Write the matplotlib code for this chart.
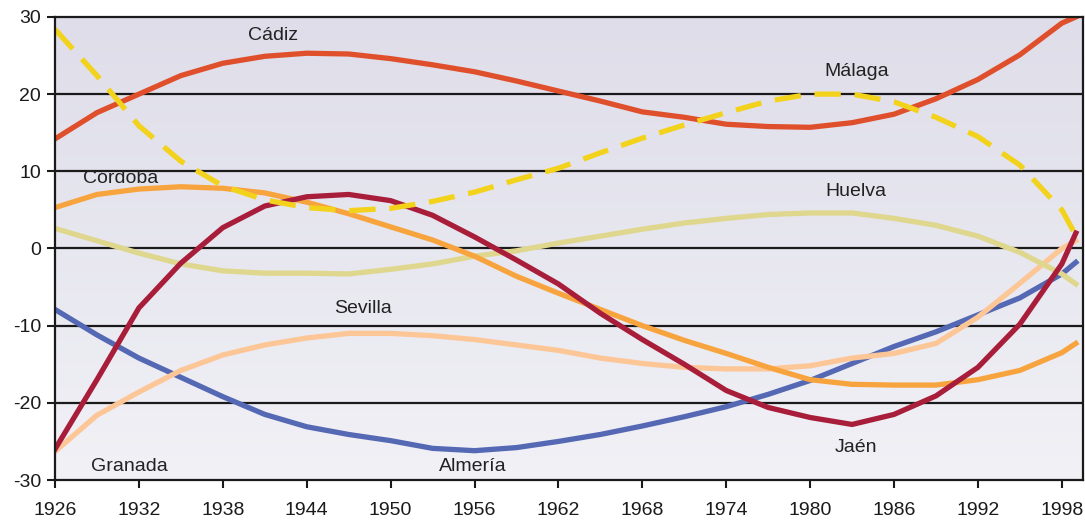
import numpy as np
import matplotlib
matplotlib.use("Agg")
import matplotlib.pyplot as plt
from matplotlib.ticker import MultipleLocator
from matplotlib.colors import LinearSegmentedColormap

plt.rcParams["font.family"] = ["Liberation Sans", "DejaVu Sans"]
plt.rcParams["axes.unicode_minus"] = False

# Years of the sampled points
years = [1926, 1929, 1932, 1935, 1938, 1941, 1944, 1947, 1950, 1953, 1956, 1959, 1962,
         1965, 1968, 1971, 1974, 1977, 1980, 1983, 1986, 1989, 1992, 1995, 1998, 1999]

almeria = [-7.9, -11.2, -14.2, -16.7, -19.2, -21.5, -23.1, -24.1, -24.9, -25.9, -26.2, -25.8, -25.0,
           -24.1, -23.0, -21.8, -20.5, -18.9, -17.1, -14.9, -12.7, -10.8, -8.6, -6.4, -3.3, -1.8]
cadiz = [14.2, 17.6, 20.0, 22.4, 24.0, 24.9, 25.3, 25.2, 24.6, 23.8, 22.9, 21.7, 20.4,
         19.1, 17.7, 17.0, 16.1, 15.8, 15.7, 16.3, 17.4, 19.4, 21.9, 25.1, 29.2, 30.0]
cordoba = [5.3, 7.0, 7.7, 8.0, 7.8, 7.2, 6.0, 4.5, 2.8, 1.1, -1.0, -3.6, -5.8,
           -7.9, -10.0, -11.9, -13.6, -15.4, -17.0, -17.6, -17.7, -17.7, -17.0, -15.8, -13.5, -12.3]
huelva = [2.6, 1.0, -0.6, -2.0, -2.9, -3.2, -3.2, -3.3, -2.7, -2.0, -1.0, -0.3, 0.7,
          1.6, 2.5, 3.3, 3.9, 4.4, 4.6, 4.6, 3.9, 3.0, 1.6, -0.5, -3.3, -4.6]
jaen = [-26.0, -17.0, -7.7, -1.9, 2.7, 5.5, 6.7, 7.0, 6.2, 4.3, 1.5, -1.5, -4.6,
        -8.4, -11.8, -15.0, -18.4, -20.6, -21.9, -22.8, -21.5, -19.1, -15.4, -9.8, -2.0, 2.0]
malaga = [28.4, 22.4, 15.9, 11.3, 8.1, 6.3, 5.3, 4.9, 5.2, 6.1, 7.3, 8.9, 10.4,
          12.4, 14.3, 16.0, 17.6, 19.1, 20.0, 20.0, 19.0, 17.0, 14.5, 10.8, 5.0, 1.7]
sevilla = [-26.3, -21.6, -18.6, -15.8, -13.8, -12.5, -11.6, -11.0, -11.0, -11.3, -11.8, -12.5, -13.2,
           -14.2, -14.9, -15.4, -15.6, -15.6, -15.2, -14.2, -13.6, -12.3, -8.9, -4.5, 0.0, 1.0]

label_names = ["Cádiz", "Málaga", "Córdoba", "Huelva", "Sevilla", "Granada", "Almería", "Jaén"]
label_x = [1941.6, 1983.3, 1930.7, 1983.3, 1948.0, 1931.3, 1955.9, 1983.3]
label_y = [27.6, 22.9, 9.1, 7.4, -7.8, -28.3, -28.3, -25.8]

fig = plt.figure(figsize=(10.85, 5.2), dpi=100)
ax = fig.add_axes([0.0507, 0.0769, 0.9473, 0.8905])

xmin, xmax = 1926, 1999.5
ymin, ymax = -30, 30

# Fondo con degradado
cmap = LinearSegmentedColormap.from_list("bg", ["#f1f1f6", "#dedde9"])
grad = np.linspace(0, 1, 256).reshape(-1, 1)
ax.imshow(grad, aspect="auto", cmap=cmap, origin="lower",
          extent=[xmin, xmax, ymin, ymax], zorder=0)

for yv in [-20, -10, 0, 10, 20]:
    ax.axhline(yv, color="#1a1a1a", lw=1.6, zorder=1)

lw = 3.8
ax.plot(years, almeria, color="#5468b4", lw=lw, zorder=2)
ax.plot(years, sevilla, color="#fdc697", lw=lw, zorder=3)
ax.plot(years, huelva, color="#dfd78e", lw=lw, zorder=3)
ax.plot(years, cordoba, color="#f8a43e", lw=lw, zorder=4)
ax.plot(years, jaen, color="#a81e3a", lw=lw, zorder=5)
ax.plot(years, cadiz, color="#df4f2c", lw=lw, zorder=6)
ax.plot(years, malaga, color="#f3d21c", lw=lw, zorder=7, dashes=(5, 2.6))

for name, lx, ly in zip(label_names, label_x, label_y):
    ax.text(lx, ly, name, ha="center", va="center", fontsize=14, color="#222222", zorder=8)

ax.set_xlim(xmin, xmax)
ax.set_ylim(ymin, ymax)
ax.xaxis.set_major_locator(MultipleLocator(6))
ax.yaxis.set_major_locator(MultipleLocator(10))
ax.tick_params(axis="both", direction="out", length=6, width=1.5, labelsize=14, colors="#1a1a1a")
ax.tick_params(axis="x", pad=9.5)
ax.tick_params(axis="y", pad=4)

for sp in ax.spines.values():
    sp.set_linewidth(1.6)
    sp.set_color("#1a1a1a")
    sp.set_zorder(9)

fig.savefig("out.png", dpi=100)
